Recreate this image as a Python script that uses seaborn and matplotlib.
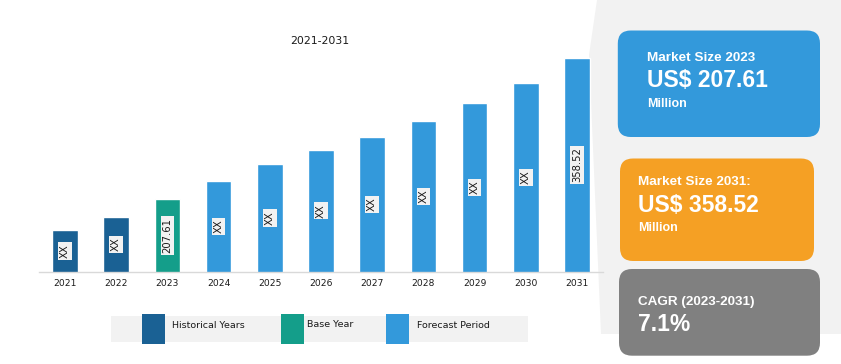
import numpy as np
import pandas as pd
import matplotlib
matplotlib.use("Agg")
import matplotlib.pyplot as plt
from matplotlib.patches import FancyBboxPatch, Rectangle, Polygon
import seaborn as sns

# --- data ---
years = ["2021", "2022", "2023", "2024", "2025", "2026", "2027", "2028", "2029", "2030", "2031"]
market_size = [174.4, 188.3, 207.61, 226.9, 245.1, 260.1, 274.0, 291.1, 310.4, 331.8, 358.52]
periods = ["Historical Years"] * 2 + ["Base Year"] + ["Forecast Period"] * 8
bar_labels = ["XX", "XX", "207.61", "XX", "XX", "XX", "XX", "XX", "XX", "XX", "358.52"]

period_order = ["Historical Years", "Base Year", "Forecast Period"]
palette = {"Historical Years": "#1A6194", "Base Year": "#149E8A", "Forecast Period": "#3399DB"}

title = "2021-2031"
cards = [
    # (face colour, lines of text)
    ("#3399DB", ["Market Size 2023", "US$ 207.61", "Million"]),
    ("#F5A024", ["Market Size 2031:", "US$ 358.52", "Million"]),
    ("#808080", ["CAGR (2023-2031)", "7.1%"]),
]

df = pd.DataFrame({"Year": years, "Size": market_size, "Period": periods})

sns.set_style("white")
plt.rcParams["font.family"] = ["DejaVu Sans"]

W, H = 841, 364
fig = plt.figure(figsize=(W / 100, H / 100), dpi=100)

# overlay in pixel coordinates (background panel, cards, legend)
bg = fig.add_axes([0, 0, 1, 1], zorder=0)
bg.set_xlim(0, W)
bg.set_ylim(H, 0)
bg.axis("off")

bg.add_patch(Polygon([(597, 0), (589, 55), (601, 334), (W, 334), (W, 0)],
                     closed=True, facecolor="#F2F2F2", edgecolor="none"))

# --- bar chart ---
y_base = 129.8
ax = fig.add_axes([39.4 / W, (H - 271.7) / H, 563.2 / W, 233.8 / H], zorder=1)
ax.patch.set_alpha(0)
sns.barplot(data=df, x="Year", y="Size", hue="Period", hue_order=period_order,
            palette=palette, dodge=False, width=0.5, saturation=1,
            legend=False, ax=ax)
ax.set_ylim(y_base, 380)
ax.set_xlim(-0.5, 10.5)
ax.set_xlabel("")
ax.set_ylabel("")
ax.set_yticks([])
for s in ["top", "right", "left"]:
    ax.spines[s].set_visible(False)
ax.spines["bottom"].set_color("#D9D9D9")
ax.spines["bottom"].set_linewidth(1)
ax.set_xticks(np.arange(-0.5, 11, 1), minor=True)
ax.tick_params(axis="x", which="major", length=0, pad=5.5, labelsize=6.6, labelcolor="#1a1a1a")
ax.tick_params(axis="x", which="minor", length=3.8, width=0.8, color="#D9D9D9")

for i, (val, lab) in enumerate(zip(market_size, bar_labels)):
    ax.text(i, (y_base + val) / 2, lab, rotation=90, ha="center", va="center",
            fontsize=7.2, color="#1a1a1a",
            bbox=dict(facecolor="#F2F2F2", edgecolor="none", pad=1.3))

bg.text(319.6, 44, title, ha="center", va="baseline", fontsize=7.8, color="#1a1a1a")

# --- legend ---
bg.add_patch(Rectangle((111, 316), 416.7, 25.7, facecolor="#F2F2F2", edgecolor="none"))
leg_x = {"Historical Years": (142, 172, 328), "Base Year": (281, 306.7, 326.7),
         "Forecast Period": (386, 416.7, 328)}
for name in period_order:
    px, tx, ty = leg_x[name]
    bg.add_patch(Rectangle((px, 314), 22.7, 29.7, facecolor=palette[name], edgecolor="none"))
    bg.text(tx, ty, name, ha="left", va="baseline", fontsize=6.8, color="#1a1a1a")

# --- cards on the right ---
card_boxes = [(617.8, 30.5, 202.2, 106.5), (620, 158.5, 194, 102.5), (619, 269, 201, 86.7)]
card_text = [
    [(647, 61, 9.7, "bold"), (647, 87.4, 16.5, "bold"), (647, 107.4, 9, "bold")],
    [(638.4, 185.3, 9.7, "bold"), (638.4, 211.7, 16.5, "bold"), (638.4, 231.4, 9, "bold")],
    [(638.4, 305, 9.7, "bold"), (638.4, 331.3, 16.5, "bold")],
]
for (color, lines), (x, y, w, h), specs in zip(cards, card_boxes, card_text):
    bg.add_patch(FancyBboxPatch((x, y), w, h, boxstyle="round,pad=0,rounding_size=13",
                                facecolor=color, edgecolor="none"))
    for line, (tx, ty, fs, fw) in zip(lines, specs):
        bg.text(tx, ty, line, ha="left", va="baseline", fontsize=fs, fontweight=fw,
                color="white", family=["Liberation Sans", "DejaVu Sans"])

fig.savefig("out.png", dpi=100)
